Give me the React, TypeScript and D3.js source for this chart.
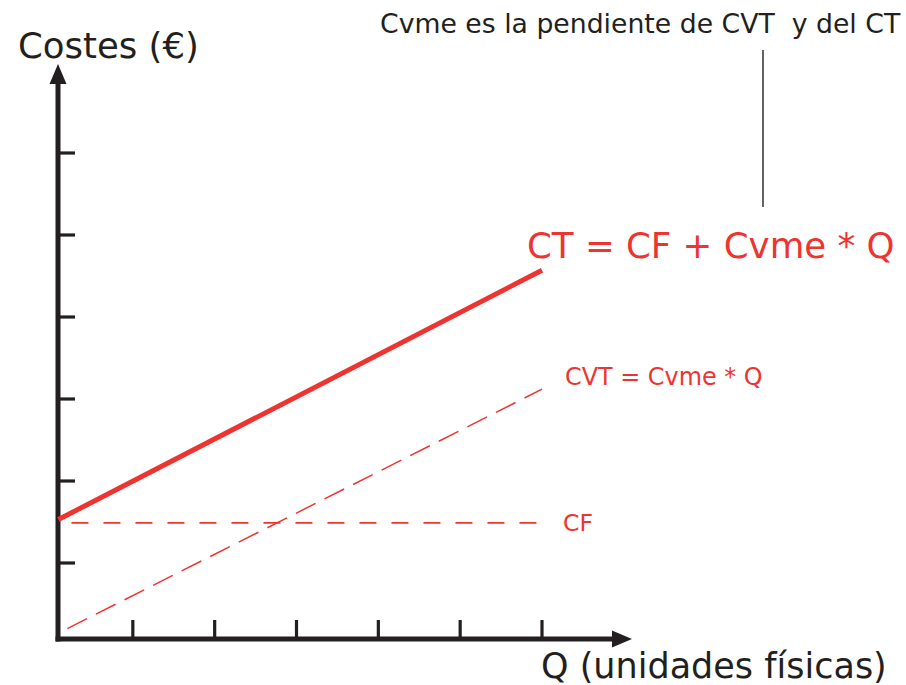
import React from "react";
import * as d3 from "d3";

// Data
const qDomain = [0, 6];
const costDomain = [0, 6];
const xTickValues = [1, 2, 3, 4, 5, 6];
const yTickValues = [1, 2, 3, 4, 5, 6];

const ctQ = [0.09, 6.0];
const ctValues = [1.53, 4.57];
const cfQ = [0.25, 5.97];
const cfValues = [1.49, 1.49];
const cvtQ = [0.2, 6.0];
const cvtValues = [0.2, 3.12];

const yAxisTitle = "Costes (€)";
const xAxisTitle = "Q (unidades físicas)";
const noteText = "Cvme es la pendiente de CVT  y del CT";
const ctLabel = "CT = CF + Cvme * Q";
const cvtLabel = "CVT = Cvme * Q";
const cfLabel = "CF";

const W = 906;
const H = 685;
const INK = "#231f20";
const RED = "#ee3431";
const FONT = "'DejaVu Sans', Verdana, sans-serif";

export default function App() {
  const x = d3.scaleLinear().domain(qDomain).range([51, 542]);
  const y = d3.scaleLinear().domain(costDomain).range([645, 153]);

  const axisX = 58;
  const axisY = 639;

  const line = d3
    .line<[number, number]>()
    .x((d) => x(d[0]))
    .y((d) => y(d[1]));

  const zip = (a: number[], b: number[]) =>
    a.map((v, i) => [v, b[i]] as [number, number]);

  const ctPath = line(zip(ctQ, ctValues)) || "";
  const cfPath = line(zip(cfQ, cfValues)) || "";
  const cvtPath = line(zip(cvtQ, cvtValues)) || "";

  return (
    <svg
      width={W}
      height={H}
      viewBox={`0 0 ${W} ${H}`}
      style={{ position: "absolute", left: 0, top: 0, background: "#fff" }}
      fontFamily={FONT}
    >
      <rect x={0} y={0} width={W} height={H} fill="#fff" />

      {/* y ticks */}
      {yTickValues.map((v) => (
        <line
          key={"yt" + v}
          x1={axisX}
          x2={75}
          y1={y(v)}
          y2={y(v)}
          stroke={INK}
          strokeWidth={3.2}
        />
      ))}
      {/* x ticks */}
      {xTickValues.map((v) => (
        <line
          key={"xt" + v}
          x1={x(v)}
          x2={x(v)}
          y1={axisY}
          y2={620}
          stroke={INK}
          strokeWidth={3.2}
        />
      ))}

      {/* axes */}
      <line x1={axisX} x2={axisX} y1={641.5} y2={80} stroke={INK} strokeWidth={5} />
      <path d={`M${axisX},64 L${axisX - 8.5},84 L${axisX + 8.5},84 Z`} fill={INK} />
      <line x1={55.5} x2={616} y1={axisY} y2={axisY} stroke={INK} strokeWidth={5} />
      <path d={`M632,${axisY} L612,${axisY - 8.5} L612,${axisY + 8.5} Z`} fill={INK} />

      {/* series */}
      <path d={cfPath} fill="none" stroke={RED} strokeWidth={1.8} strokeDasharray="17 15" />
      <path d={cvtPath} fill="none" stroke={RED} strokeWidth={1.5} strokeDasharray="22 10" />
      <path d={ctPath} fill="none" stroke={RED} strokeWidth={5} />

      {/* annotation line */}
      <line x1={763} x2={763} y1={50} y2={207} stroke={INK} strokeWidth={1.4} />

      {/* texts */}
      <text x={18} y={58} fontSize={35.5} fill={INK}>
        {yAxisTitle}
      </text>
      <text x={541} y={678} fontSize={35} fill={INK}>
        {xAxisTitle}
      </text>
      <text x={380} y={33} fontSize={26.7} fill={INK} style={{ whiteSpace: "pre" }}>
        {noteText}
      </text>
      <text x={527} y={258} fontSize={35.6} fill={RED}>
        {ctLabel}
      </text>
      <text x={565} y={385} fontSize={23.9} fill={RED}>
        {cvtLabel}
      </text>
      <text x={563} y={531} fontSize={23.5} fill={RED}>
        {cfLabel}
      </text>
    </svg>
  );
}
